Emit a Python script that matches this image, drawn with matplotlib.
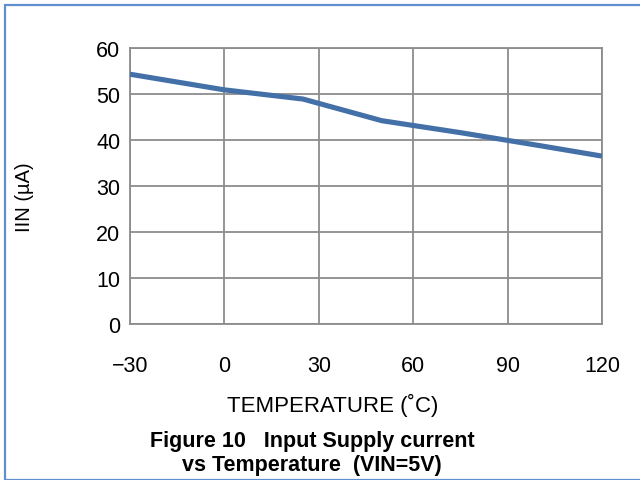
import matplotlib
matplotlib.use("Agg")
import matplotlib.pyplot as plt
from matplotlib.patches import Rectangle

temperature = [-30, 0, 25, 50, 75, 100, 120]
iin_uA = [54.3, 50.9, 48.9, 44.2, 41.6, 38.8, 36.5]
x_ticks = [-30, 0, 30, 60, 90, 120]
x_tick_labels = ["\u221230", "0", "30", "60", "90", "120"]
y_ticks = [0, 10, 20, 30, 40, 50, 60]

plt.rcParams['font.family'] = ['Liberation Sans', 'DejaVu Sans']

W, H = 640, 481
fig = plt.figure(figsize=(W / 100, H / 100), dpi=100)
ax = fig.add_axes([130 / W, 1 - 325 / H, (602 - 130) / W, (325 - 49) / H])

ax.plot(temperature, iin_uA, color='#4470A8', lw=3.7, solid_capstyle='butt', zorder=3)
ax.set_xlim(-30, 120)
ax.set_ylim(0, 60)
ax.set_xticks(x_ticks)
ax.set_xticklabels(x_tick_labels)
ax.set_yticks(y_ticks)
ax.grid(True, color='#8c8c8c', lw=1.3)
for s in ax.spines.values():
    s.set_color('#8c8c8c')
    s.set_linewidth(1.3)
ax.tick_params(length=0, labelsize=15.5, colors='black')
ax.tick_params(axis='x', pad=22)
ax.tick_params(axis='y', pad=7)

fig.text(25 / W, 1 - 197 / H, 'IIN (\u00b5A)', rotation=90, ha='center', va='center', fontsize=14.5)
fig.text(333 / W, 1 - 405 / H, 'TEMPERATURE (\u02daC)', ha='center', va='center', fontsize=16)
fig.text(312 / W, 1 - 442 / H, 'Figure 10   Input Supply current', ha='center', va='center',
         fontsize=15.5, fontweight='bold')
fig.text(312 / W, 1 - 466 / H, 'vs Temperature  (VIN=5V)', ha='center', va='center',
         fontsize=15.5, fontweight='bold')

fig.patches.append(Rectangle((4.5 / W, 1 - 480.5 / H), 700 / W, (480.5 - 5.5) / H,
                             transform=fig.transFigure, fill=False,
                             edgecolor='#5F8FD0', lw=1.6))

fig.savefig('out.png', dpi=100)
